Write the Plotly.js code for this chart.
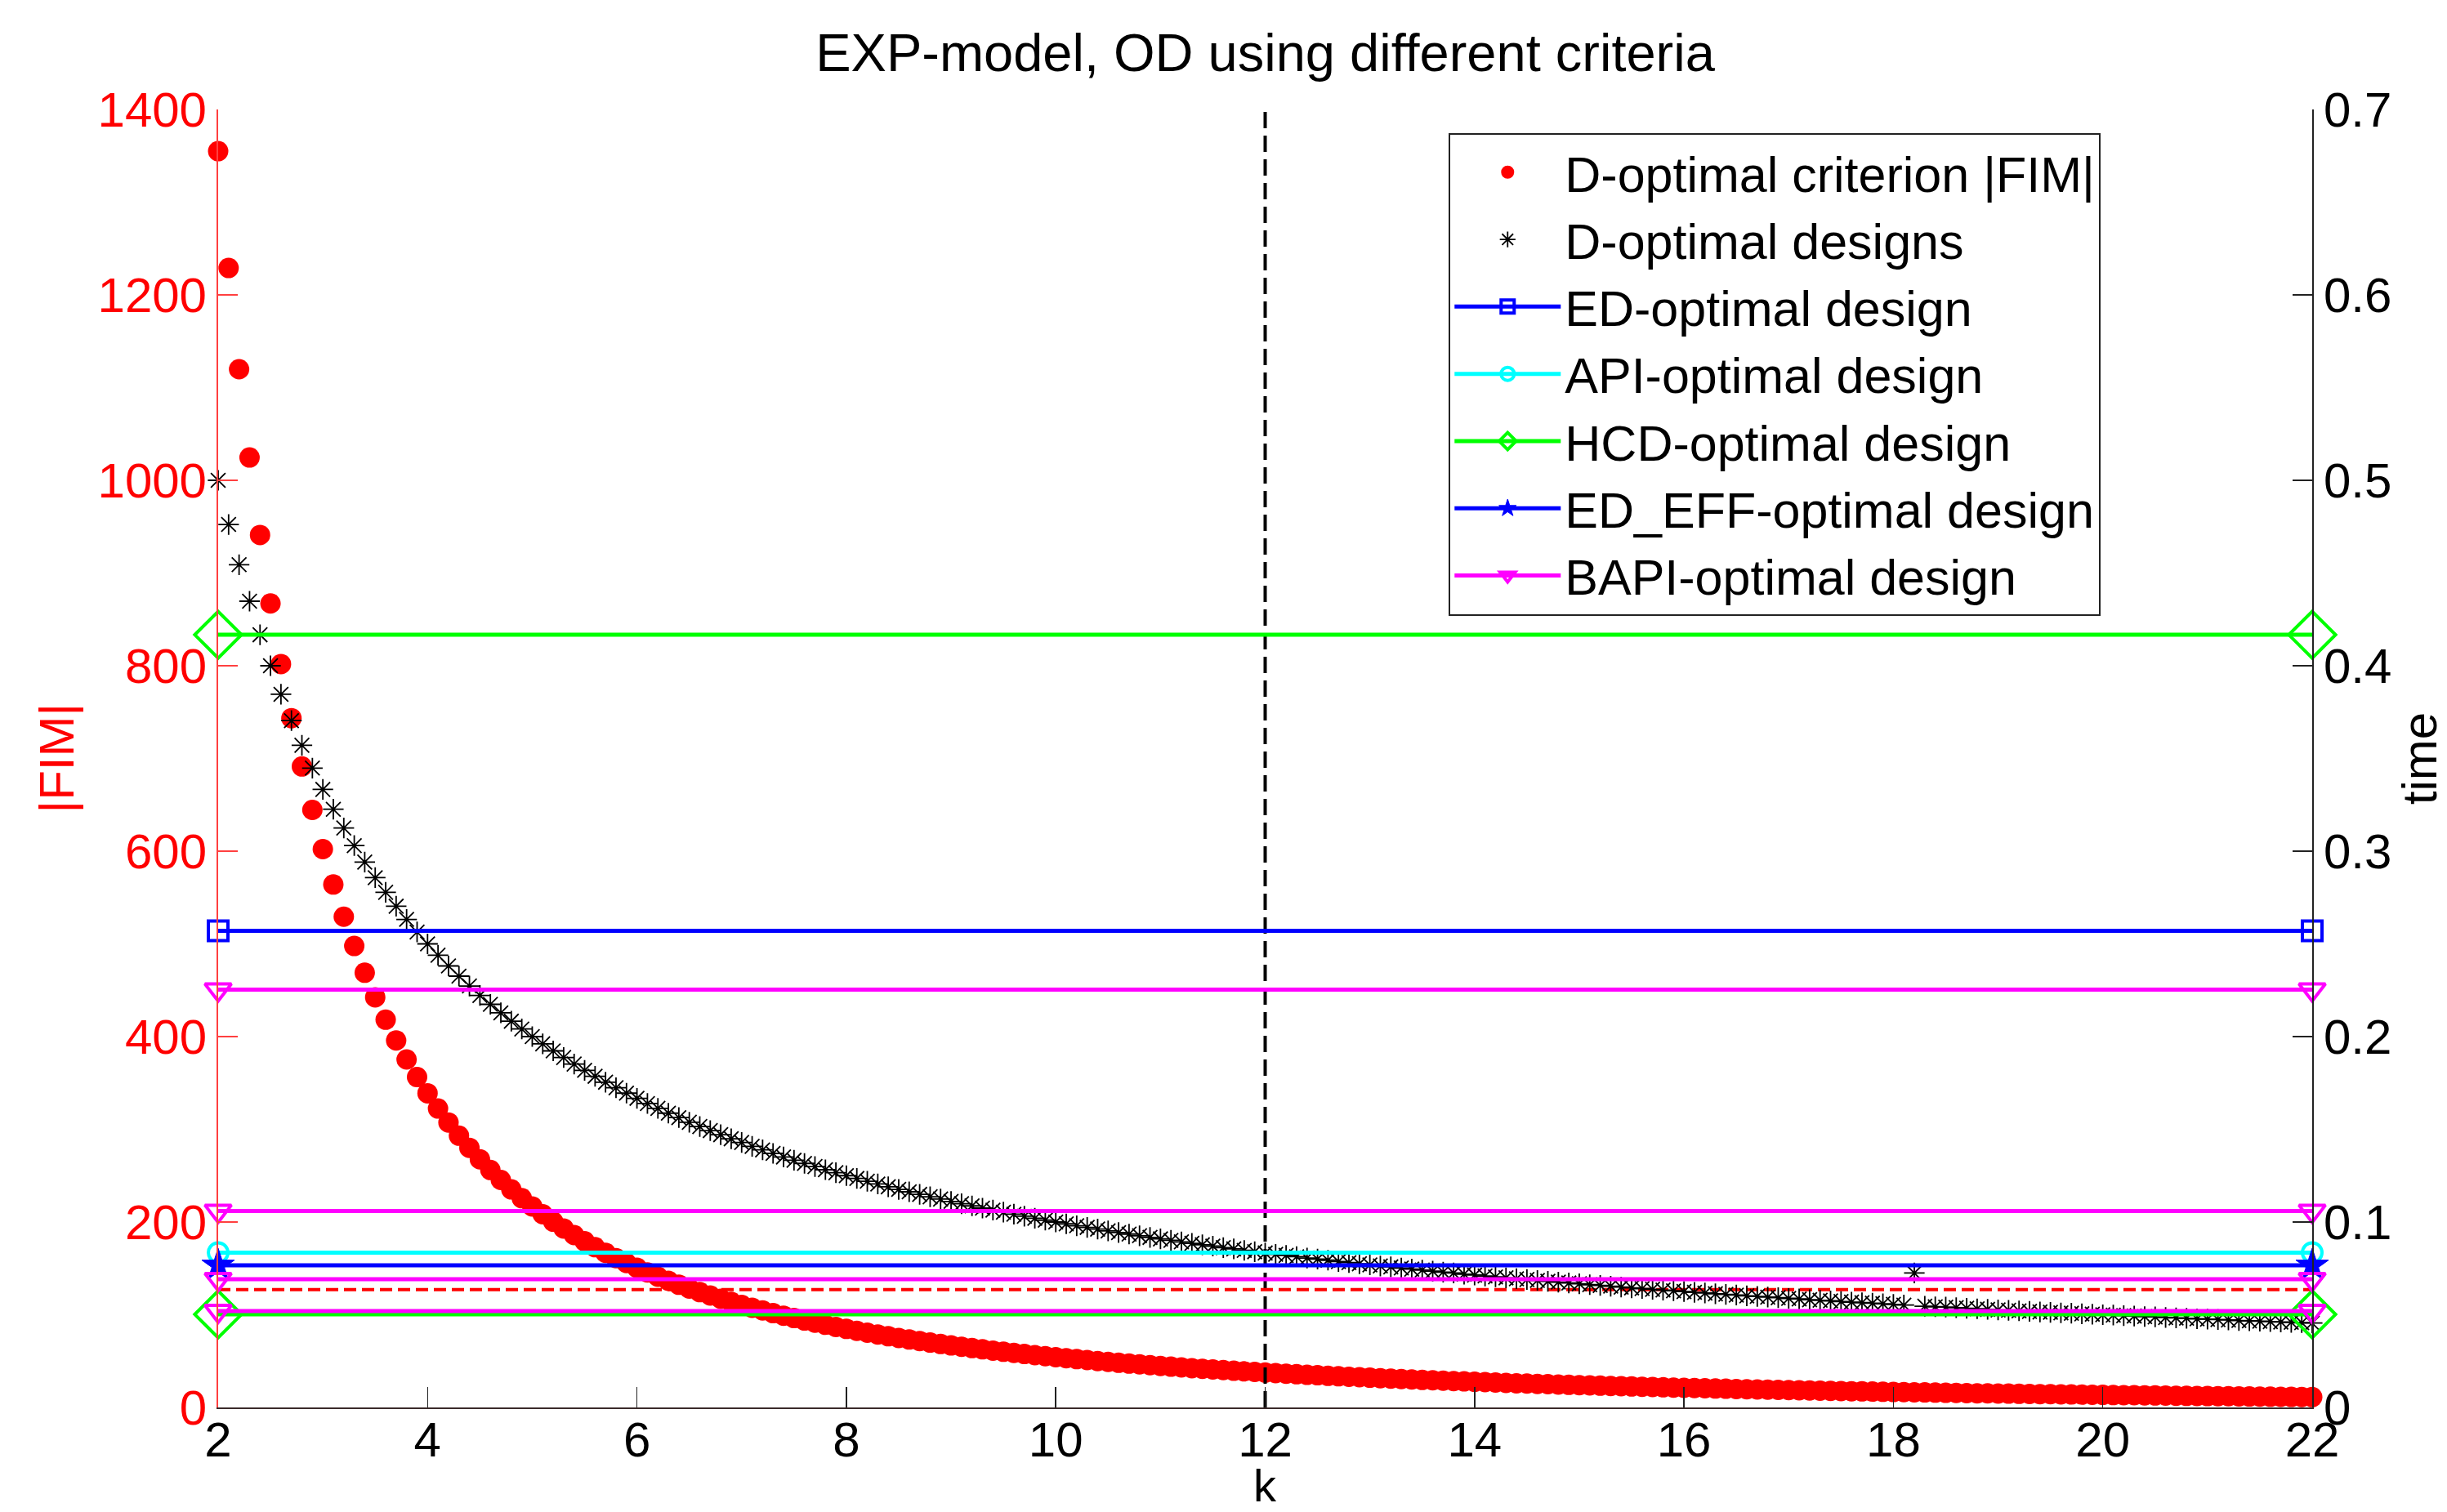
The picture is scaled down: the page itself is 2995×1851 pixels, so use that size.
<!DOCTYPE html>
<html>
<head>
<meta charset="utf-8">
<script src="https://cdn.plot.ly/plotly-3.0.1.min.js"></script>
<style>html,body{margin:0;padding:0;background:#fff;}#chart{width:2995px;height:1851px;}</style>
</head>
<body>
<div id="chart"></div>
<script>
// ---- data ----
const titleText = 'EXP-model, OD using different criteria';
const xTitle = 'k';
const yTitle = '|FIM|';
const y2Title = 'time';

const k = [
 2.0,2.1,2.2,2.3,2.4,2.5,2.6,2.7,2.8,2.9,
 3.0,3.1,3.2,3.3,3.4,3.5,3.6,3.7,3.8,3.9,
 4.0,4.1,4.2,4.3,4.4,4.5,4.6,4.7,4.8,4.9,
 5.0,5.1,5.2,5.3,5.4,5.5,5.6,5.7,5.8,5.9,
 6.0,6.1,6.2,6.3,6.4,6.5,6.6,6.7,6.8,6.9,
 7.0,7.1,7.2,7.3,7.4,7.5,7.6,7.7,7.8,7.9,
 8.0,8.1,8.2,8.3,8.4,8.5,8.6,8.7,8.8,8.9,
 9.0,9.1,9.2,9.3,9.4,9.5,9.6,9.7,9.8,9.9,
 10.0,10.1,10.2,10.3,10.4,10.5,10.6,10.7,10.8,10.9,
 11.0,11.1,11.2,11.3,11.4,11.5,11.6,11.7,11.8,11.9,
 12.0,12.1,12.2,12.3,12.4,12.5,12.6,12.7,12.8,12.9,
 13.0,13.1,13.2,13.3,13.4,13.5,13.6,13.7,13.8,13.9,
 14.0,14.1,14.2,14.3,14.4,14.5,14.6,14.7,14.8,14.9,
 15.0,15.1,15.2,15.3,15.4,15.5,15.6,15.7,15.8,15.9,
 16.0,16.1,16.2,16.3,16.4,16.5,16.6,16.7,16.8,16.9,
 17.0,17.1,17.2,17.3,17.4,17.5,17.6,17.7,17.8,17.9,
 18.0,18.1,18.2,18.3,18.4,18.5,18.6,18.7,18.8,18.9,
 19.0,19.1,19.2,19.3,19.4,19.5,19.6,19.7,19.8,19.9,
 20.0,20.1,20.2,20.3,20.4,20.5,20.6,20.7,20.8,20.9,
 21.0,21.1,21.2,21.3,21.4,21.5,21.6,21.7,21.8,21.9,
 22.0
];

// D-optimal criterion |FIM| (left axis)
const fimValues = [
 1355.0,1229.0,1119.8,1024.6,941.0,867.2,801.8,743.5,691.3,644.5,
 602.2,564.0,529.3,497.7,468.9,442.4,418.2,395.9,375.3,356.3,
 338.8,322.4,307.3,293.1,280.0,267.7,256.1,245.4,235.2,225.7,
 216.8,208.4,200.4,193.0,185.9,179.2,172.8,166.8,161.1,155.7,
 150.6,145.7,141.0,136.6,132.3,128.3,124.4,120.7,117.2,113.8,
 110.6,107.5,104.6,101.7,99.0,96.4,93.8,91.4,89.1,86.8,
 84.7,82.6,80.6,78.7,76.8,75.0,73.3,71.6,70.0,68.4,
 66.9,65.5,64.0,62.7,61.3,60.1,58.8,57.6,56.4,55.3,
 54.2,53.1,52.1,51.1,50.1,49.2,48.2,47.3,46.5,45.6,
 44.8,44.0,43.2,42.4,41.7,41.0,40.3,39.6,38.9,38.3,
 37.6,37.0,36.4,35.8,35.2,34.7,34.1,33.6,33.1,32.6,
 32.1,31.6,31.1,30.6,30.2,29.7,29.3,28.9,28.5,28.1,
 27.7,27.3,26.9,26.5,26.1,25.8,25.4,25.1,24.7,24.4,
 24.1,23.8,23.5,23.2,22.9,22.6,22.3,22.0,21.7,21.4,
 21.2,20.9,20.7,20.4,20.2,19.9,19.7,19.4,19.2,19.0,
 18.8,18.5,18.3,18.1,17.9,17.7,17.5,17.3,17.1,16.9,
 16.7,16.5,16.4,16.2,16.0,15.8,15.7,15.5,15.3,15.2,
 15.0,14.9,14.7,14.6,14.4,14.3,14.1,14.0,13.8,13.7,
 13.6,13.4,13.3,13.2,13.0,12.9,12.8,12.6,12.5,12.4,
 12.3,12.2,12.1,11.9,11.8,11.7,11.6,11.5,11.4,11.3,
 11.2
];

// D-optimal designs computation time (right axis)
const dOptTime = [
 0.5000,0.4762,0.4545,0.4348,0.4167,0.4000,0.3846,0.3704,0.3571,0.3448,
 0.3333,0.3226,0.3125,0.3030,0.2941,0.2857,0.2778,0.2703,0.2632,0.2564,
 0.2500,0.2439,0.2381,0.2326,0.2273,0.2222,0.2174,0.2128,0.2083,0.2041,
 0.2000,0.1961,0.1923,0.1887,0.1852,0.1818,0.1786,0.1754,0.1724,0.1695,
 0.1667,0.1639,0.1613,0.1587,0.1563,0.1538,0.1515,0.1493,0.1471,0.1449,
 0.1429,0.1408,0.1389,0.1370,0.1351,0.1333,0.1316,0.1299,0.1282,0.1266,
 0.1250,0.1235,0.1220,0.1205,0.1190,0.1176,0.1163,0.1149,0.1136,0.1124,
 0.1111,0.1099,0.1087,0.1075,0.1064,0.1053,0.1042,0.1031,0.1020,0.1010,
 0.1000,0.0990,0.0980,0.0971,0.0962,0.0952,0.0943,0.0935,0.0926,0.0917,
 0.0909,0.0901,0.0893,0.0885,0.0877,0.0870,0.0862,0.0855,0.0847,0.0840,
 0.0833,0.0826,0.0820,0.0813,0.0806,0.0800,0.0794,0.0787,0.0781,0.0775,
 0.0769,0.0763,0.0758,0.0752,0.0746,0.0741,0.0735,0.0730,0.0725,0.0719,
 0.0714,0.0709,0.0704,0.0699,0.0694,0.0690,0.0685,0.0680,0.0676,0.0671,
 0.0667,0.0662,0.0658,0.0654,0.0649,0.0645,0.0641,0.0637,0.0633,0.0629,
 0.0625,0.0621,0.0617,0.0613,0.0610,0.0606,0.0602,0.0599,0.0595,0.0592,
 0.0588,0.0585,0.0581,0.0578,0.0575,0.0571,0.0568,0.0565,0.0562,0.0559,
 0.0556,0.0552,0.0725,0.0546,0.0543,0.0541,0.0538,0.0535,0.0532,0.0529,
 0.0526,0.0524,0.0521,0.0518,0.0515,0.0513,0.0510,0.0508,0.0505,0.0503,
 0.0500,0.0498,0.0495,0.0493,0.0490,0.0488,0.0485,0.0483,0.0481,0.0478,
 0.0476,0.0474,0.0472,0.0469,0.0467,0.0465,0.0463,0.0461,0.0459,0.0457,
 0.0455
];

// horizontal reference designs (time, right axis), drawn between the k ends
const kEnds = [2, 22];
const edTimes = [0.257];
const apiTimes = [0.0835];
const hcdTimes = [0.4167, 0.0502];
const edEffTimes = [0.0766];
const bapiTimes = [0.2253, 0.1060, 0.0692, 0.0520];
const fimThreshold = [127];      // red dashed line, left axis
const selectedK = [12];          // black dashed vertical line

const legendNames = ['D-optimal criterion |FIM|','D-optimal designs','ED-optimal design',
  'API-optimal design','HCD-optimal design','ED_EFF-optimal design','BAPI-optimal design'];

const xTicks = [2,4,6,8,10,12,14,16,18,20,22];
const yTicks = [0,200,400,600,800,1000,1200,1400];
const y2Ticks = [0,0.1,0.2,0.3,0.4,0.5,0.6,0.7];

// ---- helpers ----
function segX(vals){ const o=[]; vals.forEach((v,i)=>{ if(i) o.push(null); o.push(kEnds[0], kEnds[1]); }); return o; }
function segY(vals){ const o=[]; vals.forEach((v,i)=>{ if(i) o.push(null); o.push(v, v); }); return o; }

function hTrace(vals, name, color, symbol, msize, mlw){
  return {
    x: segX(vals), y: segY(vals), yaxis: 'y2', type: 'scatter', mode: 'lines+markers',
    name: name, connectgaps: false, cliponaxis: false,
    line: {color: color, width: 5},
    marker: {symbol: symbol, size: msize, color: color, line: {color: color, width: mlw}}
  };
}

const traces = [
  {x: k, y: fimValues, type: 'scatter', mode: 'markers', name: legendNames[0], cliponaxis: false,
   marker: {symbol: 'circle', size: 25, color: '#ff0000', line: {width: 0}}},
  {x: [selectedK[0], selectedK[0]], y: [yTicks[0], yTicks[yTicks.length-1]], type: 'scatter', mode: 'lines',
   showlegend: false, line: {color: 'black', width: 4, dash: '20px,9px'}},
  {x: segX(fimThreshold), y: segY(fimThreshold), type: 'scatter', mode: 'lines',
   showlegend: false, line: {color: '#ff0000', width: 4, dash: '15px,7px'}},
  {x: k, y: dOptTime, yaxis: 'y2', type: 'scatter', mode: 'markers', name: legendNames[1], cliponaxis: false,
   marker: {symbol: 'asterisk-open', size: 21, color: 'black', line: {color: 'black', width: 1.8}}},
  hTrace(edTimes, legendNames[2], '#0000ff', 'square-open', 24, 4),
  hTrace(apiTimes, legendNames[3], '#00ffff', 'circle-open', 24, 4),
  hTrace(hcdTimes, legendNames[4], '#00ff00', 'diamond-open', 44, 4),
  hTrace(edEffTimes, legendNames[5], '#0000ff', 'star', 30, 1),
  hTrace(bapiTimes, legendNames[6], '#ff00ff', 'triangle-down-open', 28, 4)
];

const FONT = 'Liberation Sans, Arial, Helvetica, sans-serif';

const layout = {
  width: 2995, height: 1851,
  paper_bgcolor: '#ffffff', plot_bgcolor: '#ffffff',
  margin: {l: 267, r: 165, t: 134, b: 128, pad: 0},
  font: {family: FONT, size: 60, color: 'black'},
  title: {text: titleText, x: 0.5, xref: 'paper', xanchor: 'center', y: 1 - 64/1851, yref: 'container', yanchor: 'middle',
          font: {family: FONT, size: 65, color: 'black'}},
  showlegend: true,
  legend: {x: 0.5877, y: 0.982, xanchor: 'left', yanchor: 'top', bgcolor: '#ffffff',
           bordercolor: '#222222', borderwidth: 2, font: {family: FONT, size: 61, color: 'black'},
           itemwidth: 130, tracegroupgap: 0, traceorder: 'normal'},
  xaxis: {range: [2, 22], tickvals: xTicks, ticks: 'inside', ticklen: 25, tickwidth: 1.5, tickcolor: '#222',
          showline: true, linecolor: '#3a2a2a', linewidth: 2, showgrid: false, zeroline: false, mirror: false,
          ticklabelstandoff: -14,
          tickfont: {family: FONT, size: 60, color: 'black'}, automargin: false},
  yaxis: {range: [0, 1400], tickvals: yTicks, ticks: 'inside', ticklen: 24, tickwidth: 1.5, tickcolor: '#ff4040',
          showline: true, linecolor: '#ff4040', linewidth: 2, showgrid: false, zeroline: false,
          tickfont: {family: FONT, size: 60, color: '#ff0000'}, automargin: false},
  yaxis2: {range: [0, 0.7], tickvals: y2Ticks, overlaying: 'y', side: 'right', ticks: 'inside', ticklen: 24,
           tickwidth: 1.5, tickcolor: '#222', showline: true, linecolor: '#222', linewidth: 2,
           showgrid: false, zeroline: false,
           tickfont: {family: FONT, size: 60, color: 'black'},
           title: {text: y2Title, standoff: 28, font: {family: FONT, size: 60, color: 'black'}}, automargin: false},
  annotations: [
    {text: yTitle, xref: 'paper', yref: 'paper', x: -0.0769, y: 0.5, xanchor: 'center', yanchor: 'middle',
     textangle: -90, showarrow: false, font: {family: FONT, size: 60, color: '#ff0000'}},
    {text: xTitle, xref: 'paper', yref: 'paper', x: 0.5, y: -(1851 - 1723) / 1589, xanchor: 'center', yanchor: 'bottom',
     showarrow: false, borderpad: 0, font: {family: FONT, size: 56, color: 'black'}}
  ]
};

Plotly.newPlot('chart', traces, layout, {staticPlot: true, displayModeBar: false});
</script>
</body>
</html>
